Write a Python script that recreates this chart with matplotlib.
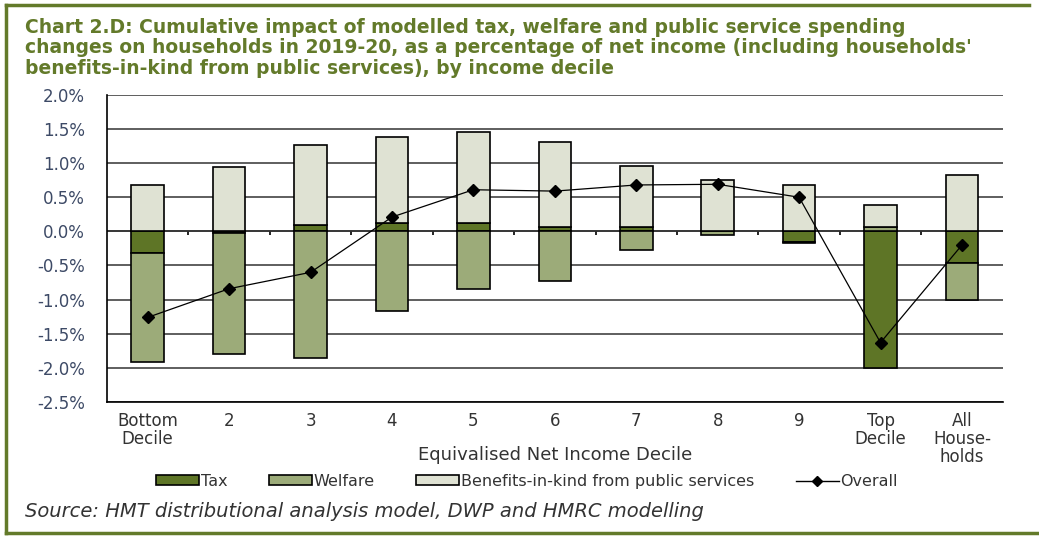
import numpy as np
import matplotlib
matplotlib.use("Agg")
import matplotlib.pyplot as plt
from matplotlib.lines import Line2D
from matplotlib.patches import Patch

# data (% of net income)
categories = ["Bottom\nDecile", "2", "3", "4", "5", "6", "7", "8", "9",
              "Top\nDecile", "All\nHouse-\nholds"]
tax = [-0.32, -0.02, 0.09, 0.13, 0.13, 0.07, 0.07, 0.00, -0.16, -2.00, -0.47]
welfare = [-1.60, -1.77, -1.85, -1.16, -0.85, -0.72, -0.27, -0.06, -0.01, 0.07, -0.54]
bik = [0.68, 0.94, 1.17, 1.26, 1.32, 1.24, 0.89, 0.76, 0.68, 0.32, 0.83]
overall = [-1.26, -0.84, -0.60, 0.21, 0.61, 0.59, 0.68, 0.69, 0.50, -1.63, -0.20]

c_tax = "#5e7526"
c_wel = "#9cab79"
c_bik = "#dfe2d3"
txt = "#333333"
olive = "#637a2a"

plt.rcParams['font.family'] = ['DejaVu Sans']

fig = plt.figure(figsize=(10.39, 5.36), dpi=100)
ax = fig.add_axes([0.103, 0.25, 0.862, 0.573])

x = np.arange(len(categories))
w = 0.4

# stack positives upward and negatives downward, in series order
pos = np.zeros(len(x))
neg = np.zeros(len(x))
for vals, col in [(tax, c_tax), (welfare, c_wel), (bik, c_bik)]:
    v = np.array(vals)
    bottom = np.where(v >= 0, pos, neg)
    ax.bar(x, v, w, bottom=bottom, color=col, edgecolor="black", linewidth=1.2, zorder=3)
    pos = pos + np.where(v >= 0, v, 0)
    neg = neg + np.where(v < 0, v, 0)

ax.plot(x, overall, color="black", linewidth=0.9, marker="D", markersize=6, zorder=4)

ax.set_xlim(-0.5, len(x) - 0.5)
ax.set_ylim(-2.5, 2.0)
ax.set_yticks(np.arange(-2.5, 2.01, 0.5))
ax.set_yticklabels([f"{v:.1f}%" for v in np.arange(-2.5, 2.01, 0.5)], fontsize=12, color="#3d4a66")
ax.yaxis.grid(True, color="#333333", linewidth=1.1, zorder=0)
ax.tick_params(axis="y", length=0, pad=16)
ax.set_xticks(x)
ax.set_xticklabels(categories, fontsize=12, color=txt, linespacing=1.0, va="top")
ax.tick_params(axis="x", length=0, pad=7)
for s in ["top", "right"]:
    ax.spines[s].set_visible(False)
ax.spines["left"].set_linewidth(1.2)
ax.spines["bottom"].set_linewidth(1.2)

# small tick marks on the zero line between categories
ax.vlines(x[:-1] + 0.5, -0.05, 0, color="black", linewidth=1.2, zorder=2)
ax.axhline(0, color="#333333", linewidth=1.2, zorder=2)

fig.text(0.534, 0.151, "Equivalised Net Income Decile", fontsize=13, color=txt,
         ha="center", va="center")

handles = [Patch(facecolor=c_tax, edgecolor="black", linewidth=1.2),
           Patch(facecolor=c_wel, edgecolor="black", linewidth=1.2),
           Patch(facecolor=c_bik, edgecolor="black", linewidth=1.2),
           Line2D([0], [0], color="black", marker="D", markersize=5, linewidth=1)]
labels = ["Tax", "Welfare", "Benefits-in-kind from public services", "Overall"]
fig.legend(handles, labels, loc="center", bbox_to_anchor=(0.507, 0.102), ncol=4,
           frameon=False, fontsize=11.5, handlelength=2.7, handleheight=0.55,
           handletextpad=0.1, columnspacing=2.6, labelcolor=txt)

fig.text(0.024, 0.966, "Chart 2.D: Cumulative impact of modelled tax, welfare and public service spending\n"
         "changes on households in 2019-20, as a percentage of net income (including households'\n"
         "benefits-in-kind from public services), by income decile",
         fontsize=13.5, fontweight="bold", color=olive, va="top", ha="left", linespacing=1.08)

fig.text(0.024, 0.045, "Source: HMT distributional analysis model, DWP and HMRC modelling",
         fontsize=14, style="italic", color=txt, va="center", ha="left")

# olive frame round the figure
for xs, ys in [([0.006, 0.006], [0.006, 0.99]), ([0.006, 0.99], [0.99, 0.99]),
               ([0.006, 1.0], [0.006, 0.006])]:
    fig.add_artist(Line2D(xs, ys, color=olive, linewidth=2.5, transform=fig.transFigure))

fig.savefig("out.png", dpi=100)
